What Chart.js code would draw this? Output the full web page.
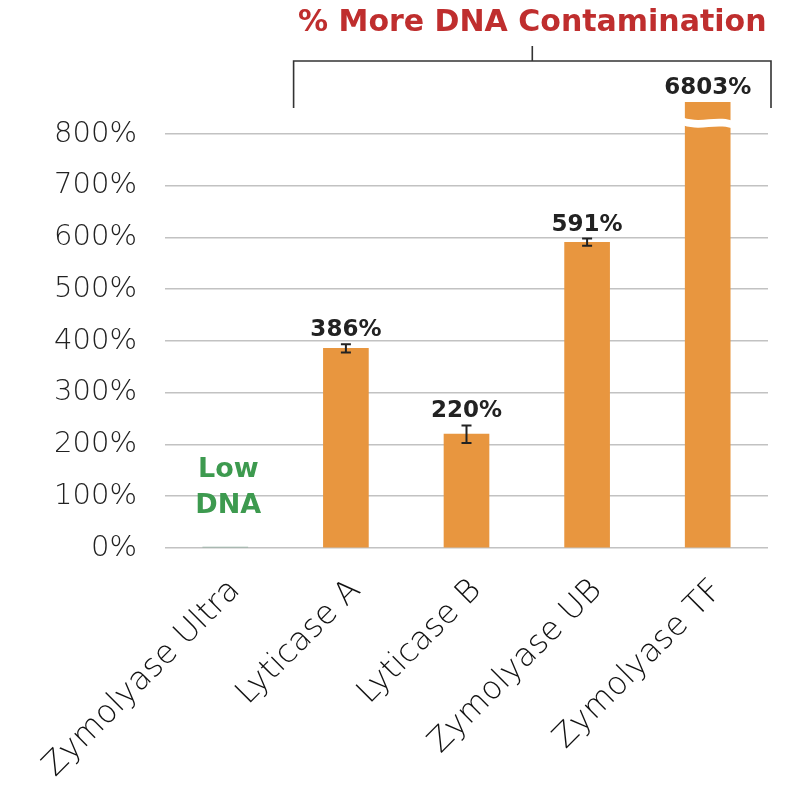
<!DOCTYPE html>
<html lang="en">
<head>
    <meta charset="UTF-8">
    <title>% More DNA Contamination</title>
    <script src="https://cdn.jsdelivr.net/npm/chart.js"></script>
    <style>
        html, body { margin: 0; padding: 0; background: #fff; }
        #wrap { width: 800px; height: 800px; }
    </style>
</head>
<body>
    <div id="wrap"><canvas id="dnaChart"></canvas></div>

    <script>
        const categories = ['Zymolyase Ultra', 'Lyticase A', 'Lyticase B', 'Zymolyase UB', 'Zymolyase TF'];
        const values = [2, 386, 220, 591, 6803];
        const errors = [0, 8, 17, 7, 0];
        const valueLabels = ['', '386%', '220%', '591%', '6803%'];
        const yTicks = [0, 100, 200, 300, 400, 500, 600, 700, 800];

        const barColors = ['#8fae9f', '#e8963f', '#e8963f', '#e8963f', '#e8963f'];
        const BOLD = '"DejaVu Sans", sans-serif';

        // annotations: error bars, value labels, axis break, bracket + title
        const extras = {
            id: 'extras',
            afterDatasetsDraw(chart) {
                const ctx = chart.ctx;
                const x = chart.scales.x, y = chart.scales.y;
                const area = chart.chartArea;
                const meta = chart.getDatasetMeta(0);
                ctx.save();

                // broken top of the tall bar
                const tf = meta.data[4];
                const half = tf.width / 2 + 2;
                const yA = y.getPixelForValue(828), yB = y.getPixelForValue(813);
                ctx.fillStyle = '#fff';
                ctx.beginPath();
                ctx.moveTo(tf.x - half, yA - 2);
                ctx.bezierCurveTo(tf.x - half / 3, yA + 4, tf.x + half / 3, yA - 4, tf.x + half, yA + 1);
                ctx.lineTo(tf.x + half, yB + 1);
                ctx.bezierCurveTo(tf.x + half / 3, yB - 4, tf.x - half / 3, yB + 4, tf.x - half, yB - 2);
                ctx.closePath();
                ctx.fill();

                // error bars
                ctx.strokeStyle = '#222';
                ctx.lineWidth = 2;
                values.forEach((v, i) => {
                    if (!errors[i]) return;
                    const cx = meta.data[i].x;
                    const t = y.getPixelForValue(v + errors[i]);
                    const b = y.getPixelForValue(v - errors[i]);
                    ctx.beginPath();
                    ctx.moveTo(cx, t); ctx.lineTo(cx, b);
                    ctx.moveTo(cx - 5, t); ctx.lineTo(cx + 5, t);
                    ctx.moveTo(cx - 5, b); ctx.lineTo(cx + 5, b);
                    ctx.stroke();
                });

                // value labels
                ctx.fillStyle = '#222';
                ctx.font = 'bold 23px ' + BOLD;
                ctx.textAlign = 'center';
                ctx.textBaseline = 'alphabetic';
                values.forEach((v, i) => {
                    if (!valueLabels[i]) return;
                    const top = Math.max(area.top, y.getPixelForValue(v + errors[i]));
                    ctx.fillText(valueLabels[i], meta.data[i].x, top - 8);
                });

                // low DNA note
                const ux = meta.data[0].x + 3;
                ctx.fillStyle = '#3d9a4f';
                ctx.font = 'bold 27px ' + BOLD;
                ctx.fillText('Low', ux, y.getPixelForValue(137));
                ctx.fillText('DNA', ux, y.getPixelForValue(68));

                // bracket over the contaminated samples
                const bl = x.getPixelForValue(0.5) + 8;
                const br = area.right + 3;
                const bt = area.top - 41, bb = area.top + 6;
                const mid = (bl + br) / 2;
                ctx.strokeStyle = '#333';
                ctx.lineWidth = 1.6;
                ctx.beginPath();
                ctx.moveTo(bl, bb); ctx.lineTo(bl, bt); ctx.lineTo(br, bt); ctx.lineTo(br, bb);
                ctx.moveTo(mid, bt); ctx.lineTo(mid, bt - 15);
                ctx.stroke();

                ctx.fillStyle = '#bf2e2e';
                ctx.font = 'bold 30px ' + BOLD;
                ctx.textBaseline = 'middle';
                ctx.fillText('% More DNA Contamination', mid, 23);

                ctx.restore();
            }
        };

        new Chart(document.getElementById('dnaChart'), {
            type: 'bar',
            data: {
                labels: categories,
                datasets: [{
                    data: values,
                    backgroundColor: barColors,
                    barThickness: 45,
                    borderWidth: 0
                }]
            },
            options: {
                responsive: true,
                maintainAspectRatio: false,
                animation: false,
                layout: { padding: { top: 102, right: 32, left: 0, bottom: 0 } },
                plugins: {
                    legend: { display: false },
                    tooltip: { enabled: false }
                },
                scales: {
                    x: {
                        grid: { display: false, drawTicks: false },
                        border: { display: false },
                        ticks: {
                            color: '#111',
                            font: { family: '"DejaVu Sans"', size: 32, weight: '200' },
                            maxRotation: 45,
                            minRotation: 45,
                            labelOffset: 10,
                            padding: 24
                        },
                        afterFit: s => { s.height = 252; s.paddingLeft = 0; s.paddingRight = 0; }
                    },
                    y: {
                        min: 0,
                        max: 862,
                        afterBuildTicks: s => { s.ticks = yTicks.map(v => ({ value: v })); },
                        grid: { color: '#c2c2c2', lineWidth: 1.6, drawTicks: false },
                        border: { display: false },
                        ticks: {
                            color: '#222',
                            font: { family: '"DejaVu Sans"', size: 29, weight: '200' },
                            padding: 28,
                            callback: v => v + '%'
                        },
                        afterFit: s => { s.width = 165; s.paddingTop = 0; s.paddingBottom = 0; }
                    }
                }
            },
            plugins: [extras]
        });
    </script>
</body>
</html>
